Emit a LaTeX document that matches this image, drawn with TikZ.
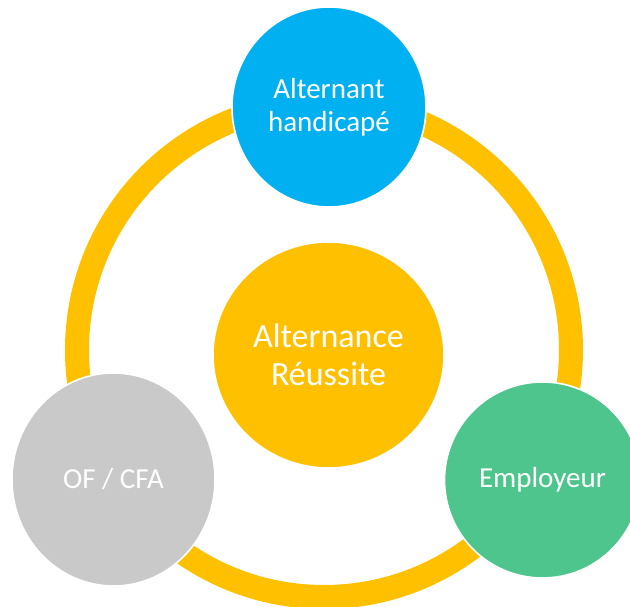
\documentclass[tikz,border=0pt]{standalone}
\usepackage{fontspec}
\setmainfont{Carlito}
\usetikzlibrary{shapes.geometric}
\definecolor{ringorange}{HTML}{FFC000}
\definecolor{topblue}{HTML}{00B0F0}
\definecolor{greyc}{HTML}{C9C9C9}
\definecolor{greenc}{HTML}{4FC58E}
\tikzset{
  bubble/.style={ellipse, inner sep=0pt, draw=white, line width=1.6pt,
    text=white, align=center, font=\fontsize{29}{33}\selectfont},
  ringline/.style={draw=ringorange, line width=24pt}
}
\begin{document}
\begin{tikzpicture}[x=1pt,y=1pt]
\useasboundingbox (0,0) rectangle (630,607);
\clip (0,0) rectangle (630,607);
\coordinate (ringc) at (324,257);
\draw[ringline] (ringc) circle[radius=247];
\node[bubble, fill=ringorange, minimum width=231pt, minimum height=226pt,
  font=\fontsize{34}{38}\selectfont] (centre) at (328.5,252) {Alternance\\Réussite};
\node[bubble, fill=topblue, minimum width=194pt, minimum height=200pt] (alt) at (329,500) {Alternant\\handicapé};
\node[bubble, fill=greyc, minimum width=203pt, minimum height=213pt] (of) at (113.5,127.5) {OF / CFA};
\node[bubble, fill=greenc, minimum width=196pt, minimum height=196pt] (emp) at (542.5,127) {Employeur};
\end{tikzpicture}
\end{document}
